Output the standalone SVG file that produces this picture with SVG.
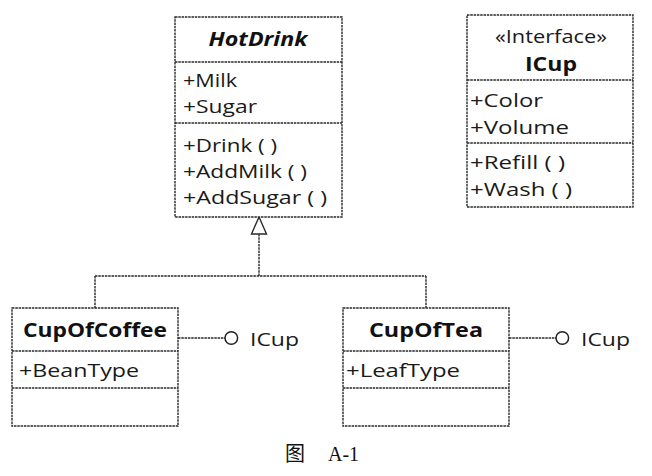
<svg xmlns="http://www.w3.org/2000/svg" width="652" height="476" viewBox="0 0 652 476">
<style>
.box{fill:#fff;stroke:#2a2a2a;stroke-width:1.4;stroke-dasharray:2.5 0.8}
.div{stroke:#2a2a2a;stroke-width:1.4;stroke-dasharray:2.5 0.8;fill:none}
.ln{stroke:#2a2a2a;stroke-width:1.4;stroke-dasharray:2.5 0.8;fill:none}
.t{font-family:"Open Sans","Liberation Sans",sans-serif;font-size:18px;fill:#1a1a1a}
.h{font-family:"Open Sans","Liberation Sans",sans-serif;font-size:19px;font-weight:bold;fill:#111;text-anchor:middle}
.cap{font-family:"Liberation Serif","Noto Sans CJK SC",serif;font-size:20px;fill:#111}
</style>
<rect width="652" height="476" fill="#fff"/>
<g id="connectors">
<path class="ln" d="M259 234 V276 M95 276 H426 M95 276 V308 M426 276 V308"/>
<polygon points="259,217 251.5,234 266.5,234" fill="#fff" stroke="#2a2a2a" stroke-width="1.4"/>
<path class="ln" d="M178 338 H225"/>
<path class="ln" d="M509 338 H556"/>
</g>
<g id="HotDrink">
<rect class="box" x="175" y="17" width="167" height="200"/>
<path class="div" d="M175 62 H342 M175 123 H342"/>
<text class="h" x="258" y="46" font-style="italic" textLength="99" lengthAdjust="spacingAndGlyphs">HotDrink</text>
<text class="t" x="183" y="87" textLength="54" lengthAdjust="spacingAndGlyphs">+Milk</text>
<text class="t" x="183" y="113" textLength="74" lengthAdjust="spacingAndGlyphs">+Sugar</text>
<text class="t" x="183" y="152" textLength="94" lengthAdjust="spacingAndGlyphs">+Drink ( )</text>
<text class="t" x="183" y="178" textLength="124" lengthAdjust="spacingAndGlyphs">+AddMilk ( )</text>
<text class="t" x="183" y="204" textLength="144" lengthAdjust="spacingAndGlyphs">+AddSugar ( )</text>
</g>
<g id="ICupInterface">
<rect class="box" x="467" y="15" width="166" height="192"/>
<path class="div" d="M467 80 H633 M467 143 H633"/>
<text class="t" x="551" y="43" text-anchor="middle" textLength="112" lengthAdjust="spacingAndGlyphs">«Interface»</text>
<text class="h" x="551" y="71" textLength="52" lengthAdjust="spacingAndGlyphs">ICup</text>
<text class="t" x="470" y="107" textLength="73" lengthAdjust="spacingAndGlyphs">+Color</text>
<text class="t" x="470" y="134" textLength="99" lengthAdjust="spacingAndGlyphs">+Volume</text>
<text class="t" x="470" y="169" textLength="95" lengthAdjust="spacingAndGlyphs">+Refill ( )</text>
<text class="t" x="470" y="196" textLength="102" lengthAdjust="spacingAndGlyphs">+Wash ( )</text>
</g>
<g id="CupOfCoffee">
<rect class="box" x="12" y="308" width="166" height="118"/>
<path class="div" d="M12 351 H178 M12 388 H178"/>
<text class="h" x="95" y="337" textLength="144" lengthAdjust="spacingAndGlyphs">CupOfCoffee</text>
<text class="t" x="19" y="377" textLength="120" lengthAdjust="spacingAndGlyphs">+BeanType</text>
</g>
<g id="CupOfTea">
<rect class="box" x="343" y="308" width="166" height="118"/>
<path class="div" d="M343 351 H509 M343 388 H509"/>
<text class="h" x="426" y="337" textLength="114" lengthAdjust="spacingAndGlyphs">CupOfTea</text>
<text class="t" x="346" y="377" textLength="114" lengthAdjust="spacingAndGlyphs">+LeafType</text>
</g>
<g id="lollipop-coffee">
<circle cx="231.3" cy="338" r="6.3" fill="#fff" stroke="#222" stroke-width="1.5"/>
<text class="t" x="250" y="346" font-size="20" textLength="49" lengthAdjust="spacingAndGlyphs">ICup</text>
</g>
<g id="lollipop-tea">
<circle cx="562.3" cy="338" r="6.3" fill="#fff" stroke="#222" stroke-width="1.5"/>
<text class="t" x="581" y="346" font-size="20" textLength="49" lengthAdjust="spacingAndGlyphs">ICup</text>
</g>
<g id="caption">
<text class="cap" x="285" y="461">图</text>
<text class="cap" x="328" y="461">A-1</text>
</g>
</svg>
